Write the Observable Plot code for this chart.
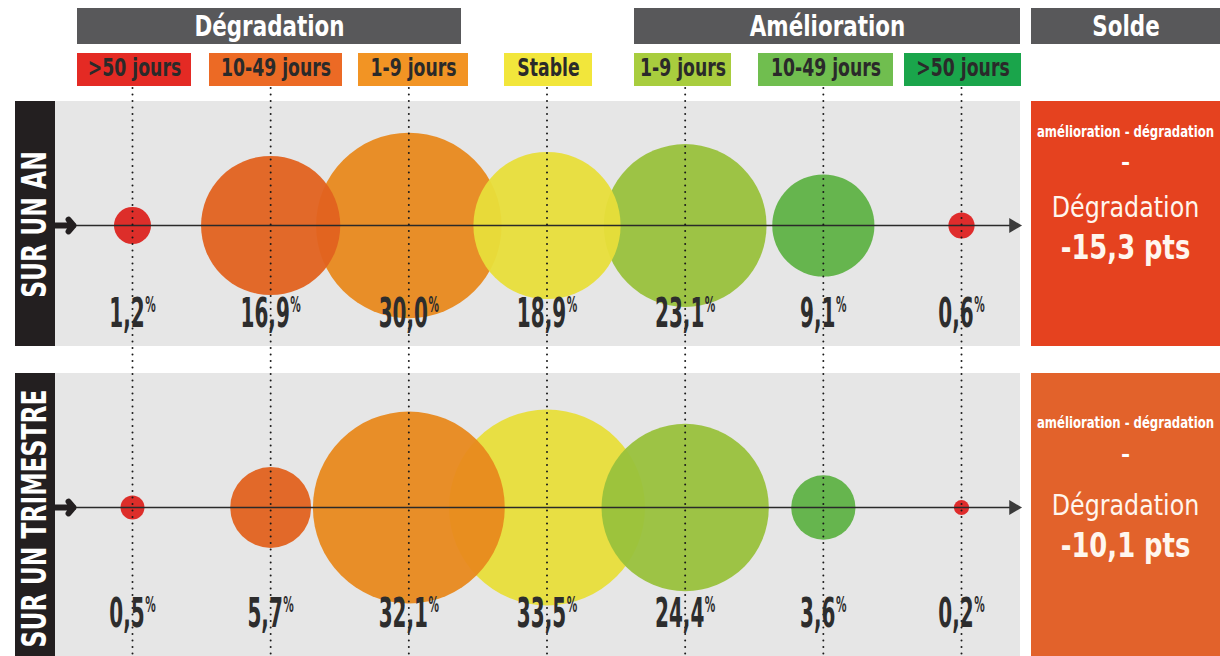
<!DOCTYPE html>
<html>
<head>
<meta charset="utf-8">
<script src="https://cdn.jsdelivr.net/npm/d3@7"></script>
<script src="https://cdn.jsdelivr.net/npm/@observablehq/plot@0.6"></script>
<style>
  html, body { margin: 0; padding: 0; background: #fff; }
  #chart { width: 1220px; height: 656px; overflow: hidden; }
</style>
</head>
<body>
<div id="chart"></div>
<script>
// ---------------- DATA ----------------
const groups = ["Dégradation", "Amélioration", "Solde"];
const categories = [">50 jours", "10-49 jours", "1-9 jours", "Stable", "1-9 jours", "10-49 jours", ">50 jours"];
const periods = ["SUR UN AN", "SUR UN TRIMESTRE"];
const valuesAn = [1.2, 16.9, 30.0, 18.9, 23.1, 9.1, 0.6];
const valuesTrimestre = [0.5, 5.7, 32.1, 33.5, 24.4, 3.6, 0.2];
const soldeFormula = "amélioration - dégradation";
const soldeLabel = "Dégradation";
const soldeValues = [-15.3, -10.1];

// ---------------- STYLE / LAYOUT ----------------
const boxColors = ["#e42a24", "#ec6a25", "#f29424", "#f2e63b", "#a8cd3e", "#70be4f", "#1aa54b"];
const bubbleColors = ["#dc2420", "#e2621f", "#e8891d", "#e8de3a", "#99c13c", "#5fb246", "#de2222"];
const soldeColors = ["#e5421f", "#e2622b"];
const FONT = "DejaVu Sans, Liberation Sans, sans-serif";

const X = d3.scaleLinear([0, 6], [132, 961]);
const Y = d3.scaleLinear([0, 1], [225, 507]);
const px = (v) => X.invert(v);
const py = (v) => Y.invert(v);

const panelTop = [101, 373], panelBottom = [346, 672];
const labelOffset = [89, 107];
const bandTextY = [224, 518];
const headerLeft = [77, 634, 1031], headerRight = [461, 1020, 1220];
const catBoxLeft = [77, 209, 358, 504, 634, 758, 904];
const catBoxRight = [191, 342, 468, 592, 731, 893, 1021];
const soldeTextY = [[132, 162, 207, 248], [423, 454, 505, 546]];

// table built from the arrays
const seriesByPeriod = [valuesAn, valuesTrimestre];
const cells = periods.flatMap((p, r) => seriesByPeriod[r].map((v, i) => ({period: r, cat: i, value: v})));
// stable bubbles sit beneath their neighbours
const bubbleCells = [...cells].sort((a, b) => (a.cat === 3 ? -1 : 0) - (b.cat === 3 ? -1 : 0) || a.period - b.period || a.cat - b.cat);
const fmt = (v) => v.toFixed(1).replace(".", ",");
const idx = (arr) => arr.map((d, i) => i);

const soldeTexts = periods.flatMap((p, r) => [
  {r, k: 0, text: soldeFormula},
  {r, k: 1, text: "-"},
  {r, k: 2, text: soldeLabel},
  {r, k: 3, text: fmt(soldeValues[r]) + " pts"}
]);

const plot = Plot.plot({
  width: 1220,
  height: 656,
  margin: 0,
  style: {background: "white", fontFamily: FONT},
  x: {type: "linear", domain: [0, 6], range: [132, 961], axis: null},
  y: {type: "linear", domain: [0, 1], range: [225, 507], axis: null},
  r: {type: "sqrt", domain: [0, 33.5], range: [0, 98]},
  color: {type: "identity"},
  marks: [
    Plot.rect(idx(periods), {x1: () => px(55), x2: () => px(1020), y1: (i) => py(panelTop[i]), y2: (i) => py(panelBottom[i]), fill: "#e6e6e6"}),
    Plot.dot(bubbleCells, {x: "cat", y: "period", r: "value", fill: (d) => bubbleColors[d.cat], fillOpacity: 0.95, stroke: "none"}),
    Plot.ruleY(idx(periods), {y: (i) => i, x1: () => px(56), x2: () => px(1012), stroke: "#2a2a2a", strokeWidth: 1.6}),
    Plot.dot(idx(periods), {x: () => px(1013), y: (i) => i, symbol: "triangle", rotate: 90, r: 5.5, fill: "#3a3a3a", stroke: "none"}),
    Plot.ruleX(idx(categories), {x: (i) => i, y1: () => py(88), y2: () => py(660), stroke: "#1a1a1a", strokeWidth: 2, strokeDasharray: "0,6.5", strokeLinecap: "round"}),
    Plot.text(cells, {x: "cat", y: (d) => py(Y(d.period) + labelOffset[d.period]), text: (d) => fmt(d.value) + "%", fontSize: 40, fontWeight: "bold", fill: "#2d2d2d", ariaDescription: "values"}),
    Plot.rect(idx(periods), {x1: () => px(15), x2: () => px(55), y1: (i) => py(panelTop[i]), y2: (i) => py(panelBottom[i]), fill: "#231f20"}),
    Plot.text(periods, {x: () => px(35), y: (d, i) => py(bandTextY[i]), text: (d) => d, rotate: -90, fill: "white", fontSize: 34, fontWeight: "bold", ariaDescription: "bands"}),
    Plot.arrow(idx(periods), {x1: () => px(50), x2: () => px(73), y1: (i) => i, y2: (i) => i, stroke: "#231f20", strokeWidth: 6, headLength: 9, headAngle: 100}),
    Plot.rect(groups, {x1: (d, i) => px(headerLeft[i]), x2: (d, i) => px(headerRight[i]), y1: () => py(8), y2: () => py(44), fill: "#58585a"}),
    Plot.text(groups, {x: (d, i) => px((headerLeft[i] + headerRight[i]) / 2), y: () => py(26), text: (d) => d, fill: "white", fontSize: 29, fontWeight: "bold", ariaDescription: "headers"}),
    Plot.rect(categories, {x1: (d, i) => px(catBoxLeft[i]), x2: (d, i) => px(catBoxRight[i]), y1: () => py(53), y2: () => py(86), fill: (d, i) => boxColors[i]}),
    Plot.text(categories, {x: (d, i) => px((catBoxLeft[i] + catBoxRight[i]) / 2), y: () => py(68), text: (d) => d, fill: "#2a2a2a", fontSize: 24, fontWeight: "bold", ariaDescription: "cats"}),
    Plot.rect(idx(periods), {x1: () => px(1031), x2: () => px(1220), y1: (i) => py(panelTop[i]), y2: (i) => py(panelBottom[i]), fill: (i) => soldeColors[i]}),
    Plot.text(soldeTexts.filter((d) => d.k === 0), {x: () => px(1125), y: (d) => py(soldeTextY[d.r][d.k]), text: "text", fill: "white", fontSize: 15, fontWeight: "bold", ariaDescription: "soldeSmall"}),
    Plot.text(soldeTexts.filter((d) => d.k === 1), {x: () => px(1125), y: (d) => py(soldeTextY[d.r][d.k]), text: "text", fill: "white", fontSize: 22, fontWeight: "bold", ariaDescription: "soldeDash"}),
    Plot.text(soldeTexts.filter((d) => d.k === 2), {x: () => px(1125), y: (d) => py(soldeTextY[d.r][d.k]), text: "text", fill: "#fff6ee", fontSize: 29, ariaDescription: "soldeLabel"}),
    Plot.text(soldeTexts.filter((d) => d.k === 3), {x: () => px(1125), y: (d) => py(soldeTextY[d.r][d.k]), text: "text", fill: "#fff6ee", fontSize: 34, fontWeight: "bold", ariaDescription: "soldeValue"})
  ]
});

const NS = "http://www.w3.org/2000/svg";
function textsOf(label) {
  return plot.querySelectorAll(`g[aria-description="${label}"] text, text[aria-label="${label}"]`);
}
// superscript percent signs
textsOf("values").forEach((t) => {
  const s = t.textContent;
  if (s.endsWith("%")) {
    t.textContent = s.slice(0, -1);
    const ts = document.createElementNS(NS, "tspan");
    ts.setAttribute("font-size", "21");
    ts.setAttribute("dy", "-0.72em");
    ts.setAttribute("dx", "1");
    ts.textContent = "%";
    t.appendChild(ts);
  }
});
// condensed typography
function condense(label, s) {
  textsOf(label).forEach((t) => {
    let tr = t.getAttribute("transform");
    if (!tr) {
      const x = t.getAttribute("x") || 0, y = t.getAttribute("y") || 0;
      t.removeAttribute("x"); t.removeAttribute("y");
      tr = `translate(${x},${y})`;
    }
    t.setAttribute("transform", tr + ` scale(${s},1)`);
  });
}
condense("values", 0.5);
condense("bands", 0.69);
condense("headers", 0.74);
condense("cats", 0.72);
condense("soldeSmall", 0.78);
condense("soldeLabel", 0.82);
condense("soldeValue", 0.76);

document.getElementById("chart").appendChild(plot);
</script>
</body>
</html>
